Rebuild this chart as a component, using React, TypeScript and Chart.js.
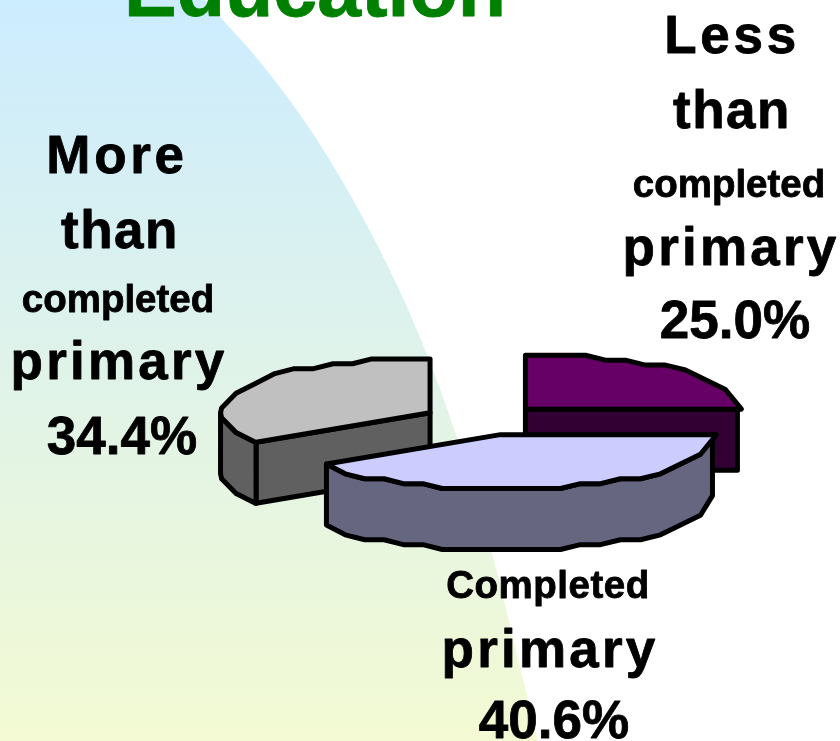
import React, { useEffect, useRef } from "react";
import { Chart, registerables } from "chart.js";

Chart.register(...registerables);

const categories = ["Less than completed primary", "Completed primary", "More than completed primary"];
const shares = [25.0, 40.6, 34.4];
const topColors = ["#660066", "#CCCCFF", "#C0C0C0"];
const wallColors = ["#330033", "#666680", "#606060"];
const titleText = "Education";

const FONT = '"Liberation Sans", Arial, sans-serif';
const SQUASH = 0.255;
const LEFT_SHRINK = 0.97;
const DEPTH = 61;
const X_STEP = 20;
const Y_STEP = 4.9;

type Line = { t: string; x: number; y: number; s: number; ls: number };
const labelLines: Line[] = [
  { t: "Less", x: 732, y: 53, s: 53, ls: 3.7 },
  { t: "than", x: 732, y: 128, s: 53, ls: 1.5 },
  { t: "completed", x: 729, y: 197, s: 38.5, ls: 0 },
  { t: "primary", x: 731, y: 265, s: 53, ls: 3.2 },
  { t: "25.0%", x: 735, y: 338, s: 53, ls: 0 },
  { t: "More", x: 117, y: 173, s: 53, ls: 3.7 },
  { t: "than", x: 120, y: 248, s: 53, ls: 1.5 },
  { t: "completed", x: 118, y: 312, s: 38.5, ls: 0 },
  { t: "primary", x: 119, y: 379, s: 53, ls: 3.2 },
  { t: "34.4%", x: 122, y: 454, s: 53, ls: 0 },
  { t: "Completed", x: 548, y: 598, s: 38.5, ls: 0.5 },
  { t: "primary", x: 550, y: 667, s: 53, ls: 3.2 },
  { t: "40.6%", x: 554, y: 738, s: 53, ls: 0 },
];

const bgEdge: [number, number][] = [
  [205, 0], [218, 15], [257, 57], [307, 123], [350, 193], [387, 263], [422, 340], [458, 438], [493, 555], [505, 605], [527, 695], [538, 741],
];

const backdrop = {
  id: "backdrop",
  beforeDraw(chart: any) {
    const { ctx, width, height } = chart;
    ctx.save();
    ctx.fillStyle = "#ffffff";
    ctx.fillRect(0, 0, width, height);
    const g = ctx.createLinearGradient(0, 0, 0, height);
    g.addColorStop(0, "#CCECFF");
    g.addColorStop(1, "#F3FAD3");
    ctx.fillStyle = g;
    ctx.beginPath();
    ctx.moveTo(0, 0);
    ctx.lineTo(bgEdge[0][0], bgEdge[0][1]);
    for (let i = 1; i < bgEdge.length - 1; i++) {
      const [x, y] = bgEdge[i];
      const [nx, ny] = bgEdge[i + 1];
      ctx.quadraticCurveTo(x, y, (x + nx) / 2, (y + ny) / 2);
    }
    const last = bgEdge[bgEdge.length - 1];
    ctx.lineTo(last[0], last[1]);
    ctx.lineTo(0, height);
    ctx.closePath();
    ctx.fill();
    ctx.restore();
  },
};

function sliceOutline(arc: any) {
  const r = arc.outerRadius;
  const start = arc.startAngle;
  const end = arc.endAngle;
  const mid = (start + end) / 2;
  const off = arc.options.offset || 0;
  const cx = arc.x + Math.cos(mid) * off;
  const cy = arc.y + Math.sin(mid) * off * SQUASH;
  const angles = [start, end];
  const cosines = [-1, -0.995];
  for (let n = -20; n <= 20; n++) {
    const c = (n * X_STEP) / r;
    if (Math.abs(c) <= 1) cosines.push(c);
  }
  for (const c of cosines) {
    const a = Math.acos(c);
    for (const b of [a, -a, a + 2 * Math.PI, -a + 2 * Math.PI]) {
      if (b > start + 0.001 && b < end - 0.001 && !angles.some((q) => Math.abs(q - b) < 1e-6)) angles.push(b);
    }
  }
  angles.sort((p, q) => p - q);
  const pts = angles.map((a) => {
    const v = Math.sin(a) * r * SQUASH;
    const y = Math.sign(v) * Math.round(Math.abs(v) / Y_STEP) * Y_STEP;
    const dx = Math.cos(a) * r;
    const x = cx + (dx < 0 ? dx * LEFT_SHRINK : dx);
    const tip = Math.cos(a) > 0.9999;
    return { x, y: cy + y, wx: tip ? x - 4 : x };
  });
  return { apex: { x: cx, y: cy, wx: cx }, rim: pts };
}

type P = { x: number; y: number; wx: number };

function wall(ctx: any, run: P[]) {
  ctx.beginPath();
  run.forEach((p, k) => (k ? ctx.lineTo(p.wx, p.y) : ctx.moveTo(p.wx, p.y)));
  for (let k = run.length - 1; k >= 0; k--) ctx.lineTo(run[k].wx, run[k].y + DEPTH);
  ctx.closePath();
  ctx.fill();
  ctx.stroke();
}

const pie3d = {
  id: "pie3d",
  beforeDatasetsDraw(chart: any) {
    const { ctx } = chart;
    const arcs = chart.getDatasetMeta(0).data;
    ctx.save();
    ctx.lineJoin = "round";
    ctx.lineWidth = 5;
    ctx.strokeStyle = "#000000";
    [2, 0, 1].forEach((i) => {
      const arc = arcs[i];
      const { apex, rim } = sliceOutline(arc);
      ctx.fillStyle = wallColors[i];
      // straight cut faces that look toward the viewer
      if (rim[0].x < apex.x - 0.01) wall(ctx, [apex, rim[0]]);
      const lastRim = rim[rim.length - 1];
      if (apex.x < lastRim.x - 0.01) wall(ctx, [lastRim, apex]);
      // curved rim: one face for each run that moves leftward on screen
      let run: P[] = [];
      for (let k = 0; k < rim.length - 1; k++) {
        if (rim[k + 1].x < rim[k].x - 0.01) {
          if (!run.length) run.push(rim[k]);
          run.push(rim[k + 1]);
        } else if (run.length) {
          wall(ctx, run);
          run = [];
        }
      }
      if (run.length) wall(ctx, run);
      ctx.fillStyle = arc.options.backgroundColor;
      ctx.beginPath();
      ctx.moveTo(apex.x, apex.y);
      rim.forEach((p) => ctx.lineTo(p.x, p.y));
      ctx.closePath();
      ctx.fill();
      ctx.stroke();
    });
    ctx.restore();
    return false;
  },
};

const texts = {
  id: "texts",
  afterDraw(chart: any) {
    const { ctx } = chart;
    ctx.save();
    ctx.textAlign = "center";
    ctx.textBaseline = "alphabetic";
    ctx.lineJoin = "round";
    ctx.lineWidth = 0.8;
    ctx.fillStyle = "#008000";
    ctx.strokeStyle = "#008000";
    ctx.font = `bold 79px ${FONT}`;
    ctx.fillText(titleText, 315, 16);
    ctx.strokeText(titleText, 315, 16);
    ctx.fillStyle = "#000000";
    ctx.strokeStyle = "#000000";
    labelLines.forEach((l) => {
      ctx.font = `bold ${l.s}px ${FONT}`;
      ctx.letterSpacing = `${l.ls}px`;
      ctx.fillText(l.t, l.x, l.y);
      ctx.strokeText(l.t, l.x, l.y);
    });
    ctx.restore();
  },
};

export default function App() {
  const ref = useRef<HTMLCanvasElement>(null);
  useEffect(() => {
    document.body.style.margin = "0";
    document.body.style.overflow = "hidden";
    const chart = new Chart(ref.current!, {
      type: "pie",
      data: {
        labels: categories,
        datasets: [
          {
            data: shares,
            backgroundColor: topColors,
            borderColor: "#000000",
            borderWidth: 5,
            offset: 60,
          },
        ],
      },
      options: {
        animation: false,
        responsive: false,
        radius: 216,
        layout: { padding: { left: 126, top: 99 } },
        plugins: { legend: { display: false }, tooltip: { enabled: false } },
      } as any,
      plugins: [backdrop, pie3d, texts],
    });
    return () => chart.destroy();
  }, []);
  return <canvas ref={ref} width={840} height={741} style={{ display: "block" }} />;
}
